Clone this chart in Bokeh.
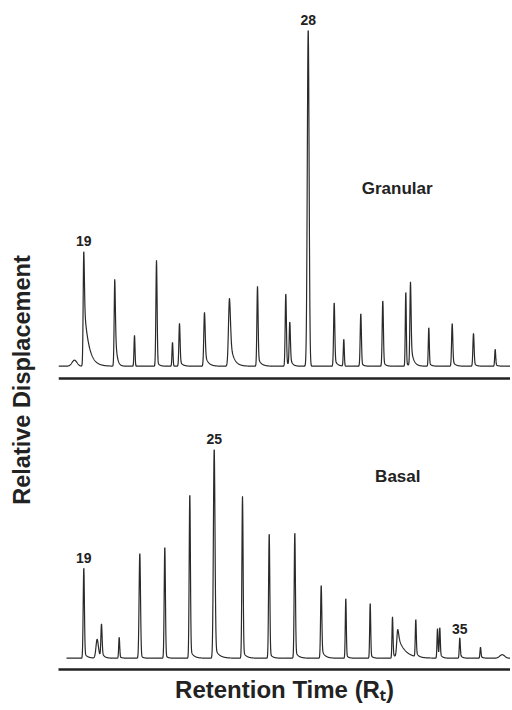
import numpy as np
from math import pi
from bokeh.plotting import figure
from bokeh.layouts import row
from bokeh.models import Range1d, Span, Label, FixedTicker, ColumnDataSource
from bokeh.core.properties import value
from bokeh.embed import file_html
from bokeh.resources import INLINE

# ---------------- data (retention position, peak height, peak width, tail height, tail length)
# Granular (upper trace)
gran_rt     = [16, 25.3, 56.3, 76, 98, 114, 121, 146, 171, 199, 227.3, 231.3, 249.7,
               275.7, 285.3, 302.3, 324.3, 347.3, 352, 370.3, 393.7, 415, 436.7]
gran_height = [6, 116, 88, 31, 106, 24, 43, 54, 68, 80, 73, 44, 337.5,
               64, 27, 53, 66, 75, 84, 39, 43, 33, 17]
gran_width  = [2.5, 0.6, 0.6, 0.5, 0.6, 0.5, 0.6, 0.7, 1.0, 0.6, 0.6, 0.6, 0.9,
               0.6, 0.5, 0.6, 0.6, 0.5, 0.6, 0.5, 0.6, 0.6, 0.5]
gran_tail   = [0, 66, 48, 0, 6, 0, 6, 14, 30, 10, 6, 10, 0,
               8, 0, 4, 6, 4, 24, 4, 6, 4, 2]
gran_tlen   = [1, 4.5, 1.6, 1, 2, 1, 2.5, 3, 3.5, 3, 2, 2, 1,
               2.5, 1, 2, 2, 2, 2.5, 2, 2.5, 2, 2]
gran_labels = {"19": 1, "28": 12}

# Basal (lower trace)
basal_rt     = [25.3, 38.7, 43, 60.7, 81.3, 106.3, 131.3, 155.7, 184, 210.7, 236.3,
                262.7, 287.3, 311.7, 334, 339.3, 357.3, 379, 381.3, 401.3, 422, 443.7]
basal_height = [91, 19, 33, 21, 105.5, 112, 165, 210, 162, 125.5, 126.5,
                73.5, 60.5, 55.5, 41.5, 28.5, 37.5, 29.5, 29.5, 20.5, 11, 3.5]
basal_width  = [0.6, 1.2, 0.6, 0.5, 0.7, 0.6, 0.6, 0.8, 0.6, 0.6, 0.6,
                0.6, 0.5, 0.5, 0.5, 1.0, 0.5, 0.5, 0.5, 0.5, 0.5, 2.5]
basal_tail   = [6, 6, 6, 2, 4, 4, 10, 12, 8, 6, 8,
                10, 4, 4, 6, 22, 6, 4, 4, 4, 2, 0]
basal_tlen   = [3, 3, 2, 2, 2, 2, 3, 4, 3, 2.5, 3,
                3, 2, 2, 2, 7, 2, 2, 2, 2, 2, 1]
basal_labels = {"19": 0, "25": 7, "35": 19}

gran_offset = 292.0     # baseline of upper trace
gran_axis = 279.7       # upper trace axis line
gran_span = (0, 452)
basal_span = (8, 452)


def trace(xr, rt, h, w, tail, tlen):
    x = np.arange(xr[0], xr[1] + 0.1, 0.2)
    y = np.zeros_like(x)
    for x0, hh, ww, ta, L in zip(rt, h, w, tail, tlen):
        g = hh - ta
        y += g * np.exp(-0.5 * ((x - x0) / ww) ** 2)
        d = x - x0
        t = np.where(d >= 0, np.exp(-np.clip(d, 0, None) / L), np.exp(-0.5 * (d / ww) ** 2))
        y += ta * t
    return x, y


H = 708

# narrow strip holding the vertical axis title
lp = figure(width=58, height=H, output_backend="svg", toolbar_location=None,
            x_range=Range1d(0, 58), y_range=Range1d(0, H),
            x_axis_location=None, y_axis_location=None, min_border=0)
lp.outline_line_color = None
lp.xgrid.visible = False
lp.ygrid.visible = False
lp.add_layout(Label(x=21, y=H - 397, angle=pi / 2,
                    text="Relative Displacement", text_align="center", text_baseline="middle",
                    text_font="Liberation Sans", text_font_style="bold",
                    text_font_size="23.5px", text_color="#222222"))

p = figure(width=452, height=H, output_backend="svg", toolbar_location=None,
           x_range=Range1d(0, 452), y_range=Range1d(-11.3, 647.7),
           y_axis_location=None, min_border_left=0, min_border_right=0,
           min_border_top=10, min_border_bottom=39)
p.outline_line_color = None
p.xgrid.visible = False
p.ygrid.visible = False
p.background_fill_color = "white"

xa = p.xaxis[0]
xa.ticker = FixedTicker(ticks=[])
xa.axis_line_width = 2.5
xa.axis_line_color = "#222222"
xa.major_tick_line_color = None
xa.minor_tick_line_color = None
xa.axis_label = "Retention Time (Rₜ)"
xa.axis_label_text_font = "Liberation Sans"
xa.axis_label_text_font_style = "bold"
xa.axis_label_text_font_size = "24px"
xa.axis_label_text_color = "#222222"
xa.axis_label_standoff = 6

gx, gy = trace(gran_span, gran_rt, gran_height, gran_width, gran_tail, gran_tlen)
bx, by = trace(basal_span, basal_rt, basal_height, basal_width, basal_tail, basal_tlen)
p.line(gx, gy + gran_offset, line_color="#2a2a2a", line_width=1.2)
p.line(bx, by, line_color="#2a2a2a", line_width=1.2)

p.add_layout(Span(location=gran_axis, dimension="width", line_color="#222222", line_width=2.5))

# peak number labels
lx, ly, lt = [], [], []
for t, i in gran_labels.items():
    lx.append(gran_rt[i]); ly.append(gran_height[i] + gran_offset); lt.append(t)
for t, i in basal_labels.items():
    lx.append(basal_rt[i]); ly.append(basal_height[i]); lt.append(t)
src = ColumnDataSource(dict(x=lx, y=ly, text=lt))
p.text("x", "y", text="text", source=src, text_align="center", text_baseline="bottom",
       y_offset=-4, text_font=value("Liberation Sans"), text_font_style="bold",
       text_font_size="14px", text_color="#222222")

for txt, xx, yy in [("Granular", 338.7, 470), ("Basal", 339.3, 181.7)]:
    p.add_layout(Label(x=xx, y=yy, text=txt, text_align="center", text_baseline="middle",
                       text_font="Liberation Sans", text_font_style="bold",
                       text_font_size="17px", text_color="#222222"))

layout = row(lp, p, spacing=0)
open("out.html", "w").write(file_html(layout, INLINE))
